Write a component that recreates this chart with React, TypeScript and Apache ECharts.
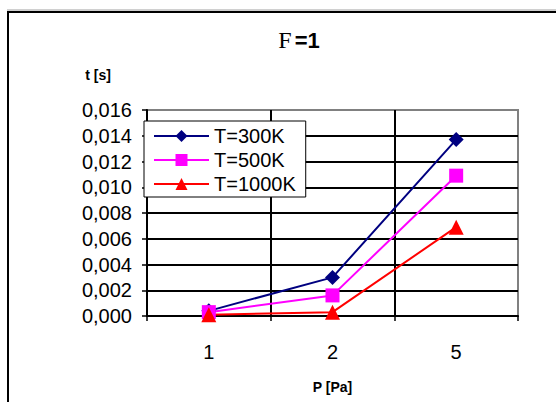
import React, { useEffect, useRef } from "react";
import * as echarts from "echarts";

const categories = ["1", "2", "5"];
const seriesNames = ["T=300K", "T=500K", "T=1000K"];
const t300 = [0.0004, 0.0030, 0.0137];
const t500 = [0.0003, 0.0016, 0.0109];
const t1000 = [0.0001, 0.0003, 0.0069];
const colors = ["#000080", "#FF00FF", "#FF0000"];
const symbols = ["diamond", "rect", "triangle"];
const symbolSizes = [15, 14, 15];

const FONT = "'Liberation Sans', Arial, sans-serif";

export default function App() {
  const ref = useRef<HTMLDivElement>(null);
  useEffect(() => {
    if (!ref.current) return;
    const chart = echarts.init(ref.current, undefined, { renderer: "svg" });
    const values = [t300, t500, t1000];
    chart.setOption({
      animation: false,
      backgroundColor: "#ffffff",
      grid: {
        left: 147,
        right: 38,
        top: 110,
        bottom: 86,
        show: true,
        borderColor: "#808080",
        borderWidth: 2,
        backgroundColor: "transparent",
      },
      legend: {
        orient: "vertical",
        left: 144,
        top: 121,
        backgroundColor: "#ffffff",
        borderColor: "#000000",
        borderWidth: 1,
        borderRadius: 0,
        padding: [4, 10, 2, 9],
        itemWidth: 55,
        itemHeight: 15,
        itemGap: 2,
        data: seriesNames,
        textStyle: { fontFamily: FONT, fontSize: 20, color: "#000", lineHeight: 22 },
      },
      xAxis: {
        type: "category",
        data: categories,
        boundaryGap: true,
        name: "P [Pa]",
        nameLocation: "middle",
        nameGap: 64,
        nameTextStyle: { fontFamily: FONT, fontSize: 14, fontWeight: "bold", color: "#000" },
        axisLine: { show: true, lineStyle: { color: "#000", width: 2 } },
        axisTick: { show: true, length: 5, lineStyle: { color: "#000", width: 1.5 } },
        axisLabel: { fontFamily: FONT, fontSize: 20, color: "#000", margin: 26 },
        splitLine: { show: true, showMaxLine: false, lineStyle: { color: "#000", width: 2 } },
      },
      yAxis: {
        type: "value",
        min: 0,
        max: 0.016,
        interval: 0.002,
        axisLine: { show: true, lineStyle: { color: "#000", width: 2 } },
        axisTick: { show: true, length: 5, lineStyle: { color: "#000", width: 1.5 } },
        axisLabel: {
          fontFamily: FONT,
          fontSize: 20,
          color: "#000",
          margin: 15,
          formatter: (v: number) => v.toFixed(3).replace(".", ","),
        },
        splitLine: { show: true, showMaxLine: false, lineStyle: { color: "#000", width: 2 } },
      },
      series: seriesNames.map((name, i) => ({
        name,
        type: "line",
        data: values[i],
        symbol: symbols[i],
        symbolSize: symbolSizes[i],
        showAllSymbol: true,
        color: colors[i],
        lineStyle: { color: colors[i], width: 2 },
        itemStyle: { color: colors[i] },
      })),
      graphic: [
        {
          type: "rect",
          silent: true,
          shape: { x: 8, y: 12, width: 600, height: 500 },
          style: { fill: "none", stroke: "#000", lineWidth: 2 },
          z: 100,
        },
        {
          type: "line",
          silent: true,
          shape: { x1: 7, y1: 10, x2: 556, y2: 10 },
          style: { stroke: "#a0a0a0", lineWidth: 1 },
          z: 100,
        },
        {
          type: "text",
          x: 299,
          y: 40,
          style: {
            text: "{a|F}{b|=1}",
            align: "center",
            verticalAlign: "middle",
            rich: {
              a: { fontFamily: "'Liberation Serif', 'Times New Roman', serif", fontSize: 24, fill: "#000", padding: [0, 3, 0, 0] },
              b: { fontFamily: FONT, fontSize: 22, fontWeight: "bold", fill: "#000" },
            },
          },
        },
        {
          type: "text",
          x: 98,
          y: 75,
          style: {
            text: "t [s]",
            align: "center",
            verticalAlign: "middle",
            fontFamily: FONT,
            fontSize: 14,
            fontWeight: "bold",
            fill: "#000",
          },
        },
      ],
    });
    return () => chart.dispose();
  }, []);
  return (
    <div
      ref={ref}
      style={{ position: "absolute", left: 0, top: 0, width: 556, height: 402 }}
    />
  );
}
